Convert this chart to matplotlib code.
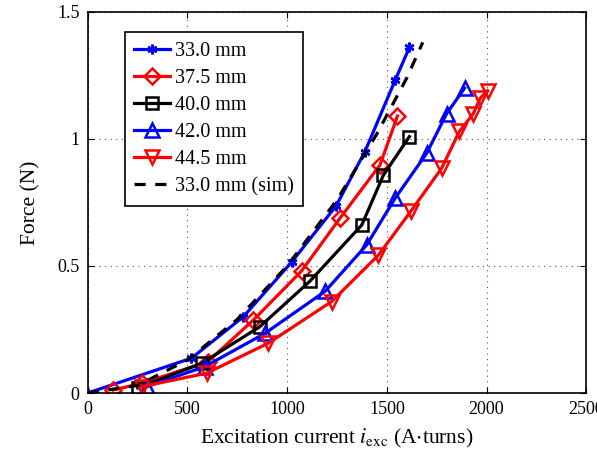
import matplotlib
matplotlib.use("Agg")
import matplotlib.pyplot as plt

plt.rcParams['font.family'] = ['Liberation Serif', 'DejaVu Serif']
plt.rcParams['mathtext.fontset'] = 'stix'

# excitation current (A-turns) and force (N)
x_330 = [0, 520, 780, 1022, 1245, 1390, 1541, 1613]
f_330 = [0, 0.137, 0.30, 0.515, 0.736, 0.95, 1.23, 1.36]

x_375 = [127, 270, 602, 830, 1072, 1265, 1466, 1553]
f_375 = [0.012, 0.038, 0.123, 0.287, 0.48, 0.688, 0.898, 1.09]

x_400 = [251, 571, 863, 1114, 1374, 1483, 1613]
f_400 = [0.02, 0.117, 0.261, 0.44, 0.661, 0.858, 1.009]

x_420 = [295, 587, 889, 1190, 1399, 1541, 1700, 1800, 1890]
f_420 = [0.025, 0.104, 0.235, 0.40, 0.583, 0.766, 0.944, 1.10, 1.20]

x_445 = [270, 596, 905, 1223, 1458, 1620, 1775, 1864, 1934, 1968, 2005]
f_445 = [0.025, 0.078, 0.196, 0.36, 0.543, 0.715, 0.885, 1.03, 1.10, 1.16, 1.19]

x_sim = [0, 250, 500, 750, 1000, 1250, 1450, 1600, 1680]
f_sim = [0, 0.03, 0.13, 0.29, 0.50, 0.76, 1.02, 1.24, 1.38]

labels = ["33.0 mm", "37.5 mm", "40.0 mm", "42.0 mm", "44.5 mm", "33.0 mm (sim)"]

fig = plt.figure(figsize=(5.97, 4.57), dpi=100)
ax = fig.add_axes([0.147, 0.140, 0.835, 0.834])

lw = 2.3
mew = 1.8
ax.plot(x_330, f_330, color='blue', lw=lw, marker=(6, 2, 0), ms=7, mew=mew, label=labels[0])
ax.plot(x_375, f_375, color='red', lw=lw, marker='D', ms=8.5, mew=mew, mfc='none', label=labels[1])
ax.plot(x_400, f_400, color='black', lw=lw, marker='s', ms=8, mew=mew, mfc='none', label=labels[2])
ax.plot(x_420, f_420, color='blue', lw=lw, marker='^', ms=10, mew=mew, mfc='none', label=labels[3])
ax.plot(x_445, f_445, color='red', lw=lw, marker='v', ms=10, mew=mew, mfc='none', label=labels[4])
ax.plot(x_sim, f_sim, color='black', lw=lw, ls=(0, (3.5, 3)), label=labels[5])

ax.set_xlim(0, 2500)
ax.set_ylim(0, 1.5)
ax.set_xticks([0, 500, 1000, 1500, 2000, 2500])
ax.set_yticks([0, 0.5, 1, 1.5])
ax.set_yticklabels(["0", "0.5", "1", "1.5"])
ax.grid(True, color='#555555', ls=(0, (1, 4)), lw=0.8)
ax.tick_params(direction='in', top=True, right=True, labelsize=13, length=4, pad=6)
for s in ax.spines.values():
    s.set_linewidth(1.2)

ax.set_xlabel(r"Excitation current $i_{\mathrm{exc}}$ (A$\cdot$turns)", fontsize=15.5, labelpad=6)
ax.set_ylabel("Force (N)", fontsize=15.5, labelpad=12)

leg = ax.legend(loc='upper left', bbox_to_anchor=(0.074, 0.946), fontsize=14.5, fancybox=False,
                edgecolor='black', framealpha=1, handlelength=1.8, handletextpad=0.25,
                labelspacing=0.4, borderpad=0.45, borderaxespad=0)
leg.get_frame().set_linewidth(1.2)

fig.savefig("out.png", dpi=100)
